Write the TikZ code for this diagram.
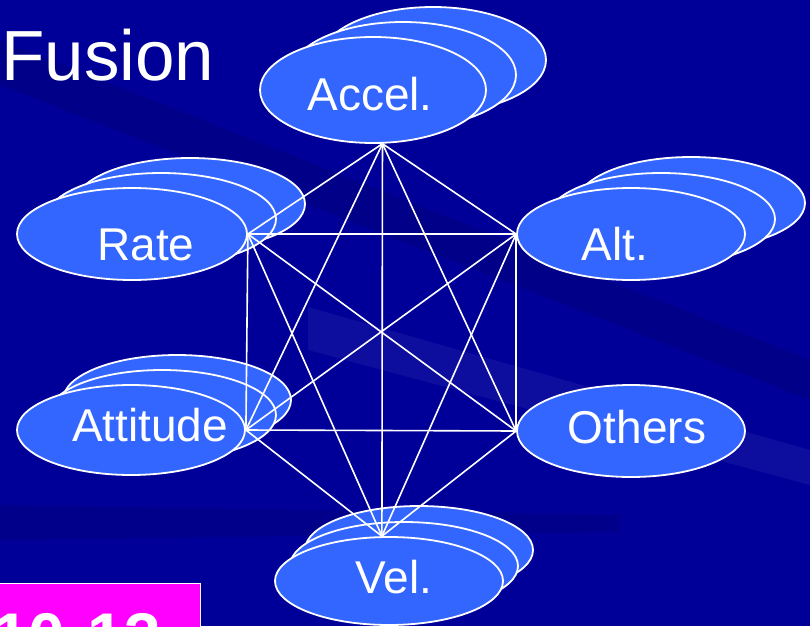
\documentclass[tikz,border=0pt]{standalone}
\usepackage{fontspec}
\setmainfont{Liberation Sans}
\usetikzlibrary{shapes.geometric}
\definecolor{slideblue}{RGB}{0,0,153}
\definecolor{blobblue}{RGB}{51,102,255}
\definecolor{tagpink}{RGB}{255,0,255}

\begin{document}
\begin{tikzpicture}[
            x=1pt, y=-1pt,
            blob/.style={ellipse, draw=white, line width=1.8pt, fill=blobblue, inner sep=0pt},
            sensor/.style={text=white, font=\fontsize{46}{46}\selectfont, anchor=base, inner sep=0pt},
            link/.style={draw=white, line width=1.6pt}
            ]
    \useasboundingbox (0,0) rectangle (810,626);
    \clip (0,0) rectangle (810,626);

    % background with faint streaks
    \fill[slideblue] (0,0) rectangle (810,626);
    \fill[black, fill opacity=0.1] (0,40) -- (810,360) -- (810,400) -- (0,85) -- cycle;
    \fill[black, fill opacity=0.09] (0,505) -- (620,515) -- (620,532) -- (0,540) -- cycle;
    \fill[white, fill opacity=0.05] (308,307) -- (810,450) -- (810,485) -- (308,350) -- cycle;

    \node[anchor=base west, text=white, inner sep=0pt, font=\fontsize{71}{71}\selectfont] (title) at (1,80) {Fusion};

    % stacked copies behind the front ellipses
    \node[blob, minimum width=226pt, minimum height=106pt] (accel-3) at (433,60) {};
    \node[blob, minimum width=226pt, minimum height=106pt] (accel-2) at (403,75) {};
    \node[blob, minimum width=230pt, minimum height=92pt] (rate-3) at (190,204) {};
    \node[blob, minimum width=230pt, minimum height=92pt] (rate-2) at (161,219) {};
    \node[blob, minimum width=228pt, minimum height=92pt] (alt-3) at (691,203) {};
    \node[blob, minimum width=228pt, minimum height=92pt] (alt-2) at (661,219) {};
    \node[blob, minimum width=228pt, minimum height=90pt] (attitude-3) at (177,400) {};
    \node[blob, minimum width=228pt, minimum height=90pt] (attitude-2) at (162,415) {};
    \node[blob, minimum width=228pt, minimum height=88pt] (vel-3) at (419,550) {};
    \node[blob, minimum width=228pt, minimum height=88pt] (vel-2) at (404,566) {};

    % front ellipses
    \node[blob, minimum width=226pt, minimum height=106pt] (accel) at (373,90) {};
    \node[blob, minimum width=230pt, minimum height=92pt] (rate) at (132,234) {};
    \node[blob, minimum width=228pt, minimum height=92pt] (alt) at (631,234) {};
    \node[blob, minimum width=228pt, minimum height=90pt] (attitude) at (131,430) {};
    \node[blob, minimum width=228pt, minimum height=92pt] (others) at (631,431) {};
    \node[blob, minimum width=228pt, minimum height=88pt] (vel) at (389,581) {};

    \coordinate (h-acc) at (accel.-80);
    \coordinate (h-rat) at (rate.east);
    \coordinate (h-alt) at (alt.west);
    \coordinate (h-att) at (attitude.east);
    \coordinate (h-oth) at (others.west);
    \coordinate (h-vel) at (vel.99);

    % every pair of sensors is linked
    \foreach \a/\b in {acc/rat, acc/alt, acc/att, acc/oth, acc/vel,
                       rat/alt, rat/att, rat/oth, rat/vel,
                       alt/att, alt/oth, alt/vel,
                       att/oth, att/vel, oth/vel}
        \draw[link] (h-\a) -- (h-\b);

    \node[sensor] (accel-txt) at (370,110) {Accel.};
    \node[sensor] (rate-txt) at (146,260) {Rate};
    \node[sensor] (alt-txt) at (615,260) {Alt.};
    \node[sensor] (attitude-txt) at (150,441) {Attitude};
    \node[sensor] (others-txt) at (637,443) {Others};
    \node[sensor] (vel-txt) at (394,593) {Vel.};

    % pink tag at the bottom edge
    \draw[white, line width=1pt, fill=tagpink] (-5,583) rectangle (200,660);
    \node[anchor=base west, text=white, inner sep=0pt, font=\bfseries\fontsize{66}{66}\selectfont] (tag) at (-8,659) {10-13};
\end{tikzpicture}
\end{document}
